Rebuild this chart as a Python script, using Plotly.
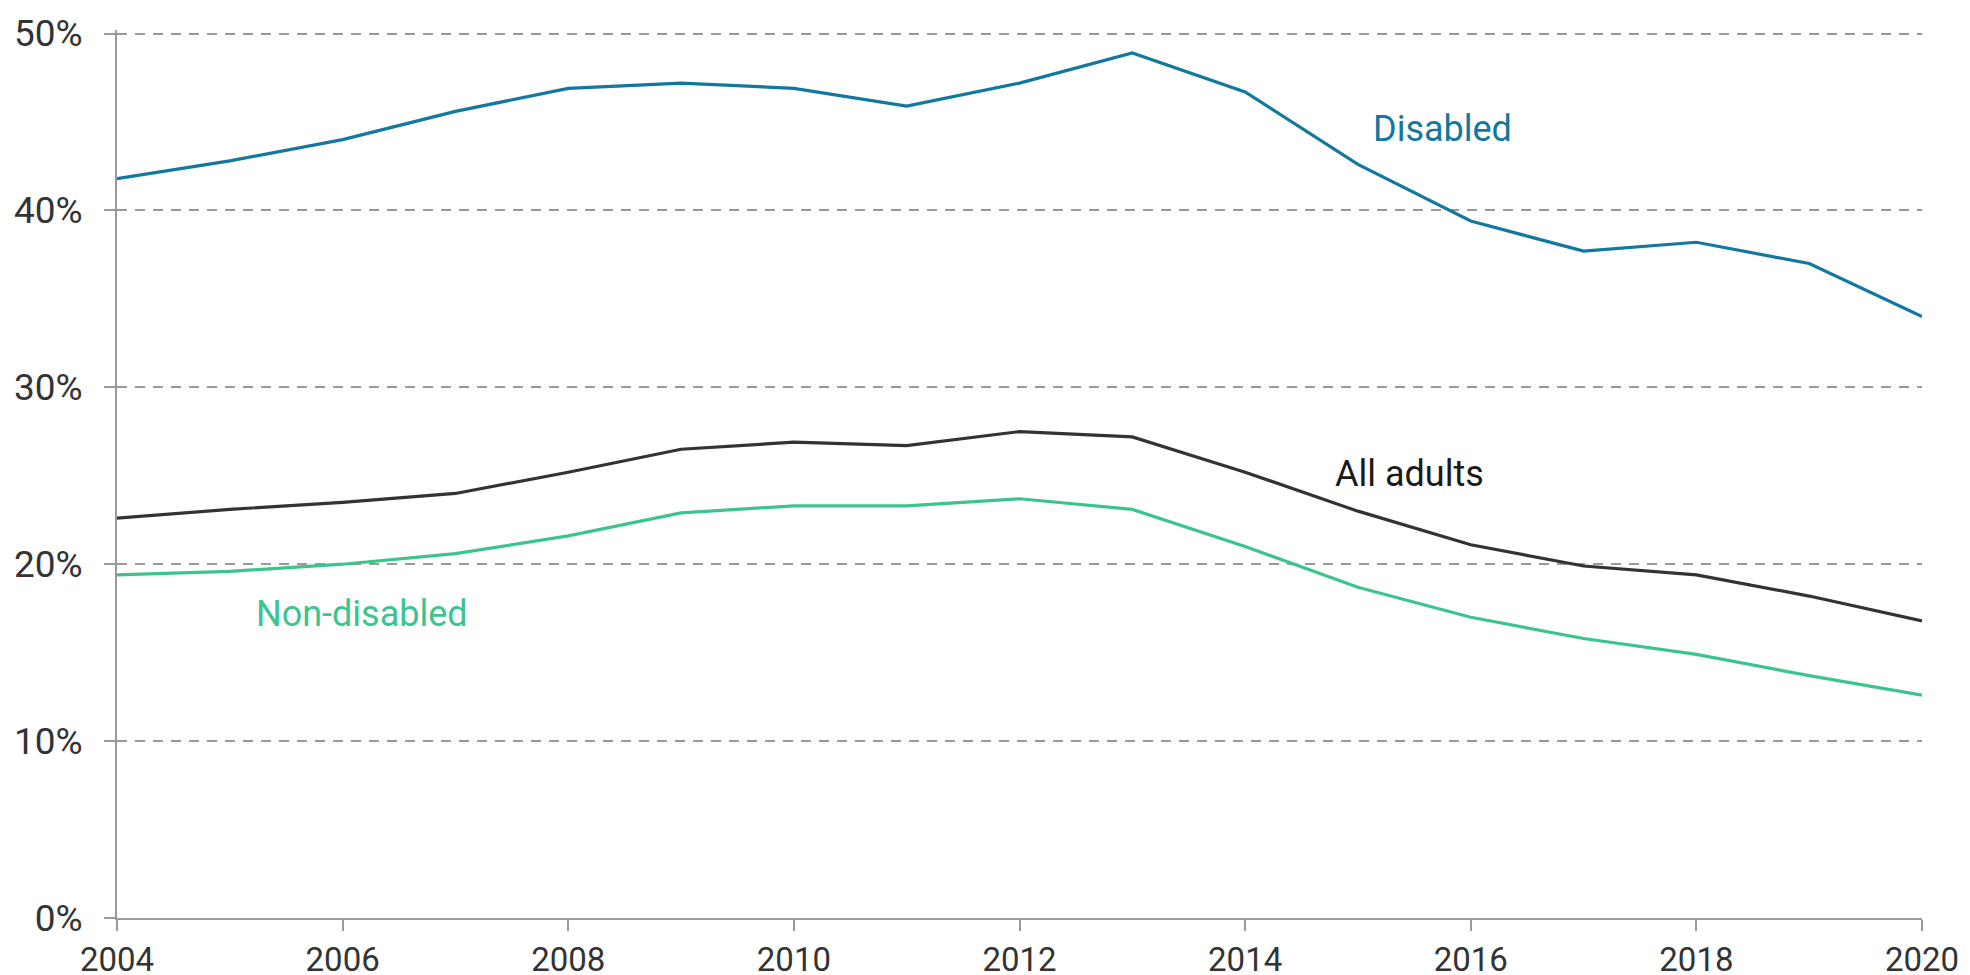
import plotly.graph_objects as go

years = list(range(2004, 2021))
disabled = [41.8, 42.8, 44.0, 45.6, 46.9, 47.2, 46.9, 45.9, 47.2, 48.9, 46.7, 42.6, 39.4, 37.7, 38.2, 37.0, 34.0]
all_adults = [22.6, 23.1, 23.5, 24.0, 25.2, 26.5, 26.9, 26.7, 27.5, 27.2, 25.2, 23.0, 21.1, 19.9, 19.4, 18.2, 16.8]
non_disabled = [19.4, 19.6, 20.0, 20.6, 21.6, 22.9, 23.3, 23.3, 23.7, 23.1, 21.0, 18.7, 17.0, 15.8, 14.9, 13.7, 12.6]

y_ticks = [0, 10, 20, 30, 40, 50]
y_tick_labels = ["0%", "10%", "20%", "30%", "40%", "50%"]
x_ticks = [2004, 2006, 2008, 2010, 2012, 2014, 2016, 2018, 2020]

C_DIS = "#13789f"
C_ALL = "#333333"
C_NON = "#3cc48f"

fig = go.Figure()
fig.add_trace(go.Scatter(x=years, y=disabled, mode="lines", line=dict(color=C_DIS, width=3.2), name="Disabled"))
fig.add_trace(go.Scatter(x=years, y=all_adults, mode="lines", line=dict(color=C_ALL, width=3.2), name="All adults"))
fig.add_trace(go.Scatter(x=years, y=non_disabled, mode="lines", line=dict(color=C_NON, width=3.2), name="Non-disabled"))

font_fam = "Roboto, Inter, sans-serif"
fig.add_annotation(x=2015.75, y=44.6, text="Disabled", showarrow=False, font=dict(family=font_fam, size=36, color=C_DIS))
fig.add_annotation(x=2015.46, y=25.1, text="All adults", showarrow=False, font=dict(family=font_fam, size=36, color="#1a1a1a"))
fig.add_annotation(x=2006.17, y=17.2, text="Non-disabled", showarrow=False, font=dict(family=font_fam, size=36, color=C_NON))

fig.update_layout(
    width=1970, height=975,
    margin=dict(l=117, r=48, t=30, b=57),
    paper_bgcolor="white", plot_bgcolor="white",
    showlegend=False,
    font=dict(family=font_fam, size=35, color="#333333"),
)
fig.update_xaxes(
    range=[2004, 2020], tickvals=x_ticks, ticktext=[str(v) for v in x_ticks],
    showgrid=False, zeroline=False, automargin=False,
    showline=True, linecolor="#9a9a9a", linewidth=2,
    ticks="outside", ticklen=11, tickcolor="#9a9a9a", tickwidth=2,
    tickfont=dict(size=33, color="#333333"),
)
fig.update_yaxes(
    range=[0, 50.2], tickvals=y_ticks, ticktext=y_tick_labels,
    showgrid=True, gridcolor="#9a9a9a", griddash="10px,8px", gridwidth=2,
    zeroline=False, automargin=False,
    showline=True, linecolor="#9a9a9a", linewidth=2,
    ticks="outside", ticklen=11, tickcolor="#9a9a9a", tickwidth=2,
    ticklabelstandoff=14,
    tickfont=dict(size=37, color="#333333"),
)

fig.write_html(
    "out.html",
    config={"displayModeBar": False},
    post_script="document.body.style.margin='0';document.body.style.overflow='hidden';",
)
